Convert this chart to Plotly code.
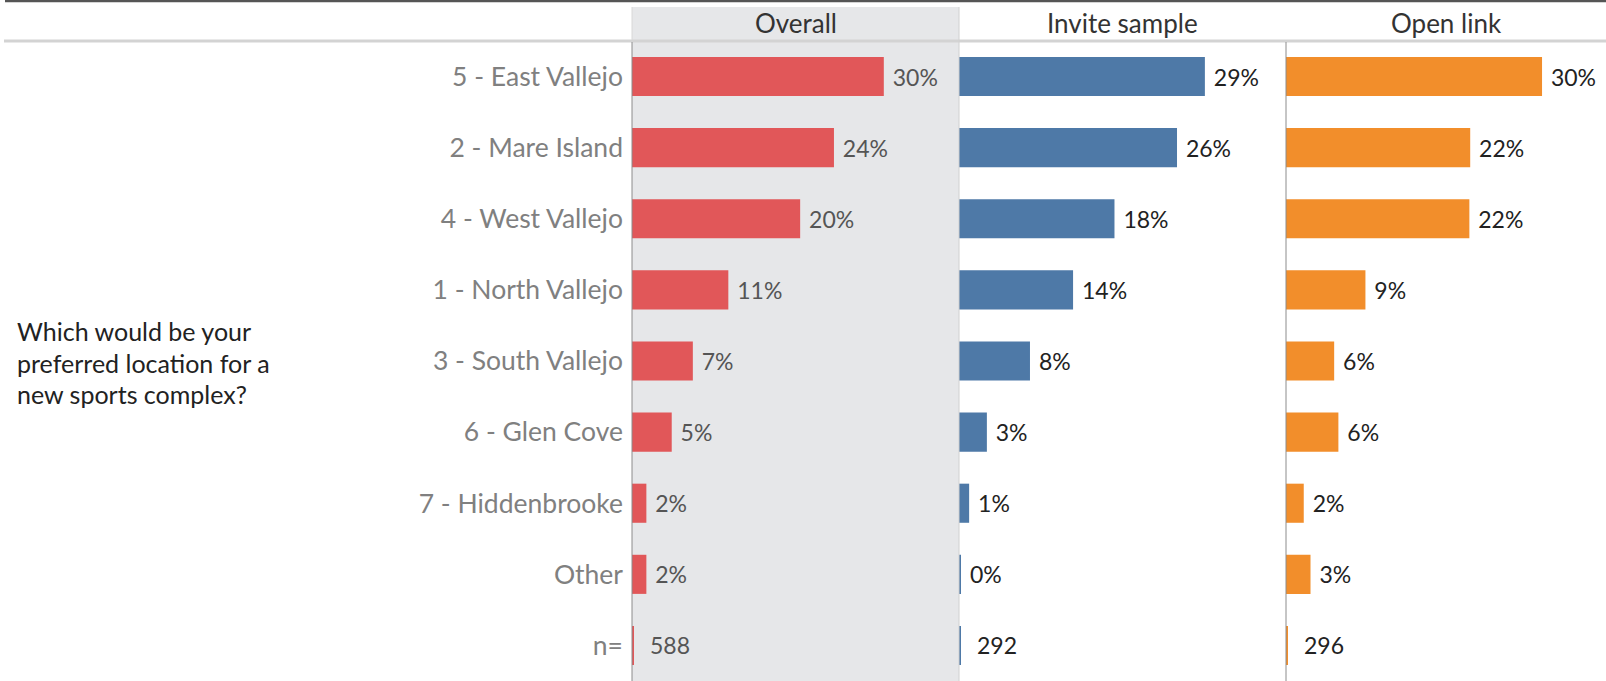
import plotly.graph_objects as go

W, H = 1606, 681

categories = ["5 - East Vallejo", "2 - Mare Island", "4 - West Vallejo", "1 - North Vallejo",
              "3 - South Vallejo", "6 - Glen Cove", "7 - Hiddenbrooke", "Other"]
n_label = "n="
panels = ["Overall", "Invite sample", "Open link"]
overall = [29.8, 23.9, 19.9, 11.4, 7.2, 4.7, 1.7, 1.7]
invite = [29.1, 25.8, 18.4, 13.5, 8.4, 3.3, 1.2, 0.2]
openlink = [30.3, 21.8, 21.7, 9.4, 5.7, 6.2, 2.1, 2.9]
n_values = [588, 292, 296]
question = ["Which would be your", "preferred location for a", "new sports complex?"]

colors = ["#E15759", "#4E79A7", "#F28E2B"]
label_colors = ["#555555", "#222222", "#222222"]
FONT = "Lato"
CAT_SIZE = 26.5
LABEL_SIZE = 23
HEAD_SIZE = 26
Q_SIZE = 25

def px_x(p):
    return p / W

def px_y(p):
    return 1 - p / H

panel_edges = [632, 959, 1286, 1606]
header_line = 41
header_top = 7
px_per_unit = 8.45
n_stub = 0.22

fig = go.Figure()
series = [overall, invite, openlink]
axes = ["x", "x2", "x3"]
for i, vals in enumerate(series):
    fig.add_trace(go.Bar(
        x=vals, y=categories, orientation="h", xaxis=axes[i], yaxis="y",
        marker=dict(color=colors[i], line=dict(width=0)),
        texttemplate="\u00a0%{x:.0f}%", textposition="outside", cliponaxis=False,
        textfont=dict(family=FONT, size=LABEL_SIZE, color=label_colors[i]),
        hoverinfo="skip", showlegend=False,
    ))
    fig.add_trace(go.Bar(
        x=[n_stub], y=[n_label], orientation="h", xaxis=axes[i], yaxis="y",
        marker=dict(color=colors[i], line=dict(width=0)),
        hoverinfo="skip", showlegend=False,
    ))

layout = dict(
    width=W, height=H,
    margin=dict(l=0, r=0, t=0, b=0),
    paper_bgcolor="white", plot_bgcolor="rgba(0,0,0,0)",
    bargap=0.45, barmode="overlay",
    font=dict(family=FONT, size=20, color="#333333"),
    yaxis=dict(domain=[0, px_y(header_line)], categoryorder="array",
               categoryarray=categories + [n_label], range=[8.5, -0.5],
               anchor="x", showgrid=False, zeroline=False, showline=False,
               ticks="", ticklabelstandoff=8,
               tickfont=dict(family=FONT, size=CAT_SIZE, color="#808080")),
)
for i, ax in enumerate(["xaxis", "xaxis2", "xaxis3"]):
    width_px = panel_edges[i + 1] - panel_edges[i]
    layout[ax] = dict(domain=[px_x(panel_edges[i]), px_x(panel_edges[i + 1])],
                      range=[0, width_px / px_per_unit], anchor="y", showgrid=False,
                      zeroline=False, showline=False, showticklabels=False,
                      fixedrange=True)
fig.update_layout(**layout)

shapes = []
# Overall highlight background
shapes.append(dict(type="rect", xref="paper", yref="paper",
                   x0=px_x(panel_edges[0]), x1=px_x(panel_edges[1]),
                   y0=0, y1=px_y(header_top), fillcolor="#E6E7E9",
                   line=dict(width=0), layer="below"))
# top dark rule
shapes.append(dict(type="line", xref="paper", yref="paper", x0=px_x(5), x1=1,
                   y0=px_y(1), y1=px_y(1), line=dict(color="#555555", width=2.5)))
# header rule
shapes.append(dict(type="line", xref="paper", yref="paper", x0=px_x(4), x1=1,
                   y0=px_y(header_line), y1=px_y(header_line),
                   line=dict(color="#D3D3D3", width=3)))
# vertical separators
shapes.append(dict(type="line", xref="paper", yref="paper",
                   x0=px_x(panel_edges[0]), x1=px_x(panel_edges[0]),
                   y0=px_y(header_top), y1=px_y(header_line - 1),
                   line=dict(color="#D8D8D8", width=1)))
shapes.append(dict(type="line", xref="paper", yref="paper",
                   x0=px_x(panel_edges[0]), x1=px_x(panel_edges[0]),
                   y0=0, y1=px_y(header_line + 1),
                   line=dict(color="#8C8C8C", width=1)))
shapes.append(dict(type="line", xref="paper", yref="paper",
                   x0=px_x(panel_edges[1]), x1=px_x(panel_edges[1]),
                   y0=0, y1=px_y(header_top),
                   line=dict(color="#D0D0D0", width=1)))
shapes.append(dict(type="line", xref="paper", yref="paper",
                   x0=px_x(panel_edges[2]), x1=px_x(panel_edges[2]),
                   y0=0, y1=px_y(header_line + 1),
                   line=dict(color="#8C8C8C", width=1)))
fig.update_layout(shapes=shapes)

annotations = []
for i, name in enumerate(panels):
    annotations.append(dict(text=name, xref="paper", yref="paper",
                            x=px_x((panel_edges[i] + panel_edges[i + 1]) / 2),
                            y=px_y(23), xanchor="center", yanchor="middle",
                            showarrow=False,
                            font=dict(family=FONT, size=HEAD_SIZE, color="#333333")))
    annotations.append(dict(text=str(n_values[i]), xref=axes[i], yref="y",
                            x=0, y=n_label, xanchor="left", yanchor="middle",
                            xshift=16, showarrow=False,
                            font=dict(family=FONT, size=LABEL_SIZE, color=label_colors[i])))
for j, line in enumerate(question):
    annotations.append(dict(text=line, xref="paper", yref="paper",
                            x=px_x(15), y=px_y(331 + j * 31.5), xanchor="left",
                            yanchor="middle", showarrow=False,
                            font=dict(family=FONT, size=Q_SIZE, color="#222222")))
fig.update_layout(annotations=annotations)

fig.write_html("out.html", config=dict(displayModeBar=False),
               post_script="document.body.style.margin='0';document.body.style.overflow='hidden';")
